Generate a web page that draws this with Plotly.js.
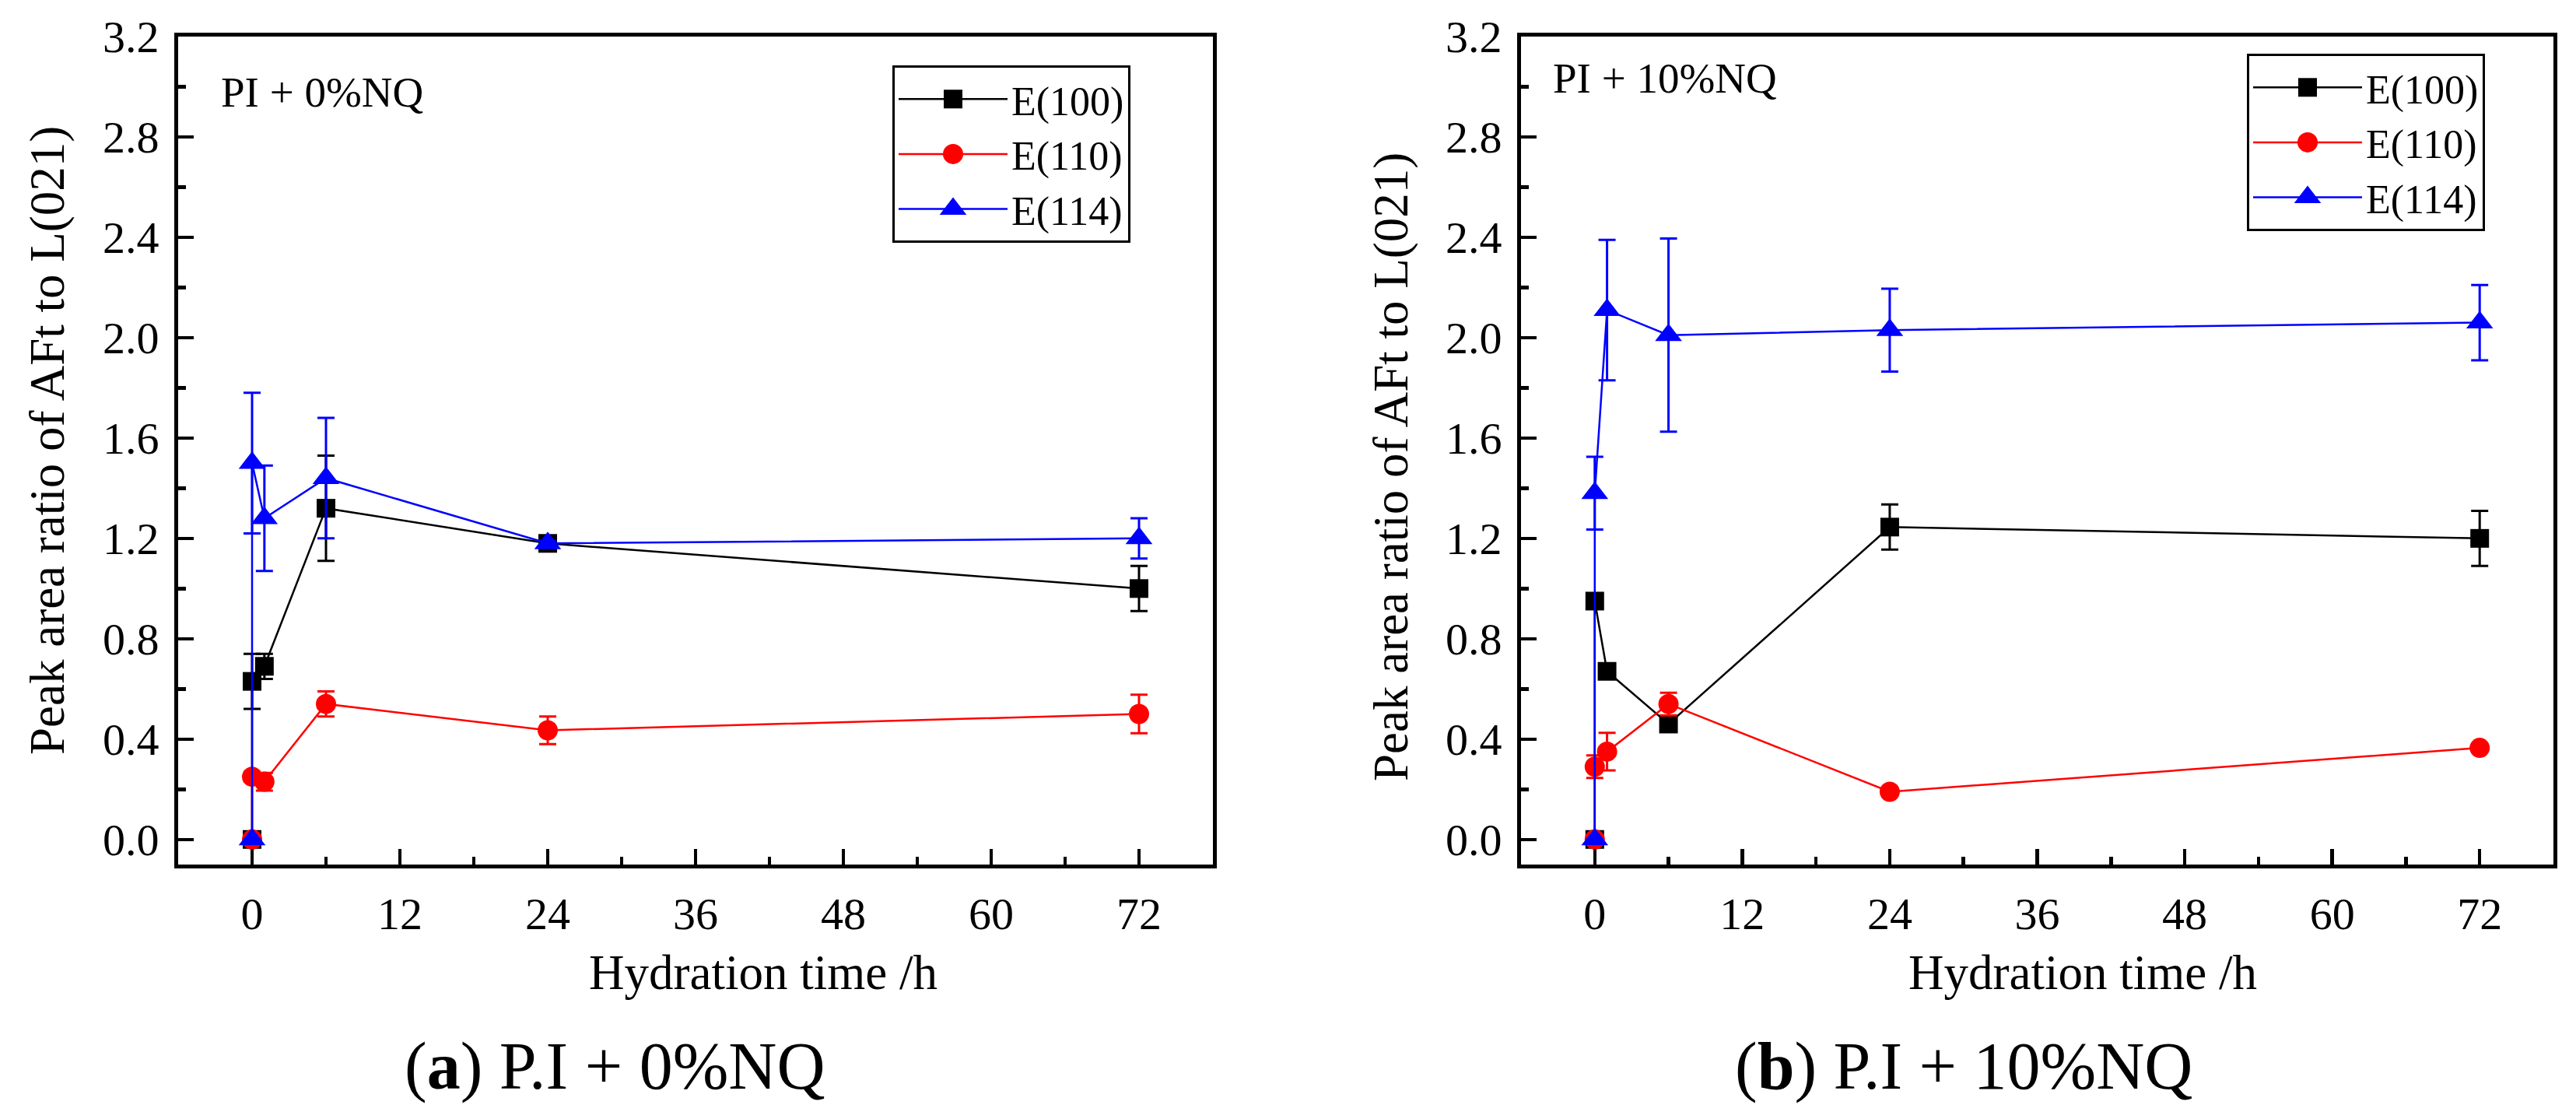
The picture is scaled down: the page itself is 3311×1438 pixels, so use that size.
<!DOCTYPE html>
<html>
<head>
<meta charset="utf-8">
<script src="https://cdn.plot.ly/plotly-3.0.1.min.js"></script>
<style>
  html, body { margin: 0; padding: 0; background: #fff; }
  #chart { width: 3311px; height: 1438px; }
</style>
</head>
<body>
<div id="chart"></div>
<script>
// Hydration times (h); the first two points are both at t = 0
const hours = [0, 0, 1, 6, 24, 72];

// (a) P.I + 0%NQ
const e100NQ0 = [0, 0.63, 0.69, 1.32, 1.18, 1.00];
const e100NQ0Err = [0, 0.11, 0.05, 0.21, 0.01, 0.09];
const e110NQ0 = [0, 0.25, 0.23, 0.54, 0.435, 0.50];
const e110NQ0Err = [0, 0.02, 0.035, 0.05, 0.055, 0.077];
const e114NQ0 = [0, 1.50, 1.28, 1.44, 1.18, 1.20];
const e114NQ0Err = [0, 0.28, 0.21, 0.24, 0.01, 0.08];

// (b) P.I + 10%NQ
const e100NQ10 = [0, 0.95, 0.67, 0.46, 1.245, 1.20];
const e100NQ10Err = [0, 0, 0, 0, 0.09, 0.11];
const e110NQ10 = [0, 0.29, 0.35, 0.54, 0.19, 0.365];
const e110NQ10Err = [0, 0.045, 0.075, 0.045, 0, 0];
const e114NQ10 = [0, 1.38, 2.11, 2.01, 2.03, 2.06];
const e114NQ10Err = [0, 0.145, 0.28, 0.385, 0.165, 0.15];

const seriesNames = ['E(100)', 'E(110)', 'E(114)'];
const seriesColors = ['#000000', '#ff0000', '#0000ff'];
const seriesSymbols = ['square', 'circle', 'triangle-up'];
const seriesSizes = [24, 26, 30];

const xTickVals = [0, 12, 24, 36, 48, 60, 72];
const xMinorVals = [6, 18, 30, 42, 54, 66];
const yTickVals = [0, 0.4, 0.8, 1.2, 1.6, 2.0, 2.4, 2.8, 3.2];
const yTickText = ['0.0', '0.4', '0.8', '1.2', '1.6', '2.0', '2.4', '2.8', '3.2'];
const yMinorVals = [0.2, 0.6, 1.0, 1.4, 1.8, 2.2, 2.6, 3.0];

const W = 3311;
const H = 1438;
const FONT = 'Liberation Serif';
const px = v => v / W;
const py = v => 1 - v / H;

function makeTraces(values, errors, xaxis, yaxis, legend) {
    return values.map((y, i) => ({
        type: 'scatter',
        mode: 'lines+markers',
        name: seriesNames[i],
        x: hours,
        y,
        xaxis,
        yaxis,
        legend,
        line: { color: seriesColors[i], width: 2.5 },
        marker: { color: seriesColors[i], symbol: seriesSymbols[i], size: seriesSizes[i], line: { width: 0 } },
        error_y: { type: 'data', array: errors[i], visible: true, color: seriesColors[i], thickness: 3, width: 11 },
    }));
}

const data = [
    ...makeTraces([e100NQ0, e110NQ0, e114NQ0], [e100NQ0Err, e110NQ0Err, e114NQ0Err], 'x', 'y', 'legend'),
    ...makeTraces([e100NQ10, e110NQ10, e114NQ10], [e100NQ10Err, e110NQ10Err, e114NQ10Err], 'x2', 'y2', 'legend2'),
];

function xAxis(domain, anchor) {
    return {
        domain, anchor,
        range: [-6, 78],
        tickmode: 'array', tickvals: xTickVals,
        ticks: 'inside', ticklen: 20, tickwidth: 4.5, tickcolor: '#000',
        minor: { tickmode: 'array', tickvals: xMinorVals, ticks: 'inside', ticklen: 10, tickwidth: 4.5, tickcolor: '#000', showgrid: false },
        showline: true, linewidth: 5, linecolor: '#000', mirror: true,
        showgrid: false, zeroline: false,
        tickfont: { family: FONT, size: 58, color: '#000' },
        ticklabelstandoff: 8,
    };
}

function yAxis(anchor) {
    return {
        domain: [py(1111), py(47)], anchor,
        range: [-0.1, 3.2],
        tickmode: 'array', tickvals: yTickVals, ticktext: yTickText,
        ticks: 'inside', ticklen: 20, tickwidth: 4.5, tickcolor: '#000',
        minor: { tickmode: 'array', tickvals: yMinorVals, ticks: 'inside', ticklen: 10, tickwidth: 4.5, tickcolor: '#000', showgrid: false },
        showline: true, linewidth: 5, linecolor: '#000', mirror: true,
        showgrid: false, zeroline: false,
        tickfont: { family: FONT, size: 58, color: '#000' },
        ticklabelstandoff: 8,
    };
}

function legendBox(right, top) {
    return {
        x: px(right), xanchor: 'right', y: py(top), yanchor: 'top',
        bgcolor: '#fff', bordercolor: '#000', borderwidth: 3,
        font: { family: FONT, size: 52, color: '#000' },
        itemwidth: 140, tracegroupgap: 0,
    };
}

const textFont = size => ({ family: FONT, size, color: '#000' });
const note = (text, x, y, size, extra = {}) => ({
    text, x: px(x), y: py(y), xref: 'paper', yref: 'paper',
    xanchor: 'center', yanchor: 'middle', showarrow: false, font: textFont(size), ...extra,
});

const layout = {
    width: W,
    height: H,
    margin: { l: 0, r: 0, t: 0, b: 0 },
    font: { family: FONT, color: '#000' },
    paper_bgcolor: '#fff',
    plot_bgcolor: '#fff',
    showlegend: true,
    xaxis: xAxis([px(229), px(1559)], 'y'),
    yaxis: yAxis('x'),
    xaxis2: xAxis([px(1955), px(3282)], 'y2'),
    yaxis2: yAxis('x2'),
    legend: legendBox(1453, 84),
    legend2: legendBox(3194, 69),
    annotations: [
        note('PI + 0%NQ', 282, 118, 55, { xanchor: 'left' }),
        note('PI + 10%NQ', 1994, 101, 55, { xanchor: 'left' }),
        note('Hydration time /h', 981, 1250, 63),
        note('Hydration time /h', 2677, 1250, 63),
        note('Peak area ratio of AFt to L(021)', 61, 566, 63, { textangle: -90 }),
        note('Peak area ratio of AFt to L(021)', 1788, 600, 63, { textangle: -90 }),
        note('(<b>a</b>) P.I + 0%NQ', 790, 1370, 86),
        note('(<b>b</b>) P.I + 10%NQ', 2524, 1370, 86),
    ],
};

Plotly.newPlot('chart', data, layout, { staticPlot: true, displayModeBar: false }).then(gd => {
    // The legend caps symbol size at 16px; scale them up to the plotted marker size.
    gd.querySelectorAll('g.legend, g.legend2').forEach(legend => {
        legend.querySelectorAll('.traces').forEach((item, i) => {
            const k = seriesSizes[i % seriesSizes.length] / 16;
            item.querySelectorAll('path.scatterpts').forEach(p => {
                const t = p.getAttribute('transform') || '';
                p.setAttribute('transform', `${t} scale(${k})`);
            });
        });
    });
});
</script>
</body>
</html>
